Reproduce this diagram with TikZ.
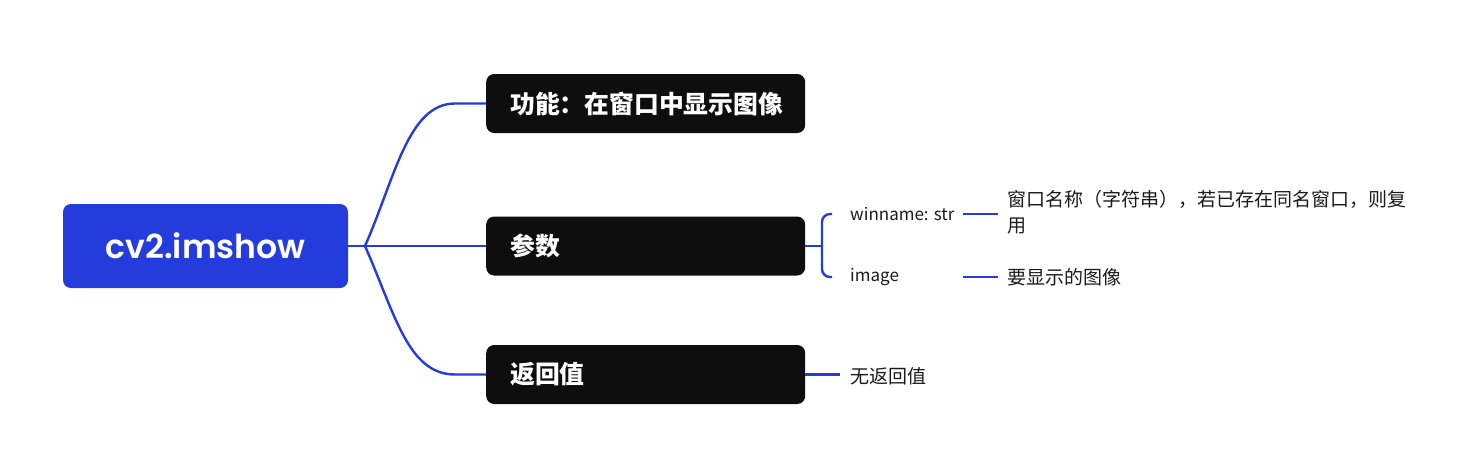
\documentclass[tikz,border=0pt]{standalone}
\usepackage{fontspec}
\usetikzlibrary{calc}
\newfontfamily\cjk{Noto Sans CJK SC}
\newfontfamily\pop{Poppins}[BoldFont={Poppins SemiBold}]
\definecolor{mmblue}{RGB}{36,60,219}
\definecolor{mmblack}{RGB}{14,14,14}
\definecolor{mmtext}{RGB}{26,26,26}
\begin{document}
\begin{tikzpicture}[x=1pt,y=-1pt,
  rootbox/.style={fill=mmblue,rounded corners=8pt,minimum width=285pt,minimum height=84pt,inner sep=0pt,text=white,font=\pop\bfseries\fontsize{33}{38}\selectfont},
  topicbox/.style={fill=mmblack,rounded corners=8pt,anchor=west,text width=271pt,inner xsep=24pt,inner ysep=0pt,minimum height=59pt,align=left,text=white,font=\cjk\bfseries\fontsize{24.8}{28}\selectfont},
  leaf/.style={anchor=west,inner sep=0pt,text=mmtext,font=\cjk\fontsize{17}{22}\selectfont},
  desc/.style={anchor=west,inner sep=0pt,text=mmtext,align=left,font=\cjk\fontsize{19}{26}\selectfont},
  link/.style={draw=mmblue,line width=2.4pt}]
\useasboundingbox (0,0) rectangle (1480,472);
\node[rootbox] (root) at (205.5,246) {cv2.imshow};
\node[topicbox] (func) at (486,103.5) {功能：在窗口中显示图像};
\node[topicbox] (param) at (486,246) {参数};
\node[topicbox] (ret) at (486,374.5) {返回值};
\coordinate (fork) at (365,246);
\path[link] (root.east) -- (fork);
\path[link] (fork) .. controls (395,178) and (408,103.5) .. (455,103.5) -- (func.west);
\path[link] (fork) -- (param.west);
\path[link] (fork) .. controls (395,314) and (408,374.5) .. (455,374.5) -- (ret.west);
% parameters
\node[leaf] (win) at (850,214) {winname: str};
\node[leaf] (img) at (850,277) {image};
\coordinate (pfork) at (822,246);
\path[link] (param.east) -- (pfork);
\path[link,rounded corners=8pt] ($(pfork |- win.west)+(10,0)$) -- (pfork |- win.west) -- (pfork |- img.west) -- ($(pfork |- img.west)+(10,0)$);
\node[desc,anchor=north west] (windesc) at (1007,190) {窗口名称（字符串），若已存在同名窗口，则复\\用};
\node[desc] (imgdesc) at (1007,277) {要显示的图像};
\path[link] ($(win.east)+(8,0)$) -- ($(windesc.west |- win.east)+(-9,0)$);
\path[link] ($(win.east |- img.east)+(8,0)$) -- ($(imgdesc.west |- img.east)+(-9,0)$);
% return
\node[leaf,font=\cjk\fontsize{19}{24}\selectfont] (none) at (850,376) {无返回值};
\path[link] (ret.east) -- ($(ret.east -| none.west)+(-10,0)$);
\end{tikzpicture}
\end{document}
